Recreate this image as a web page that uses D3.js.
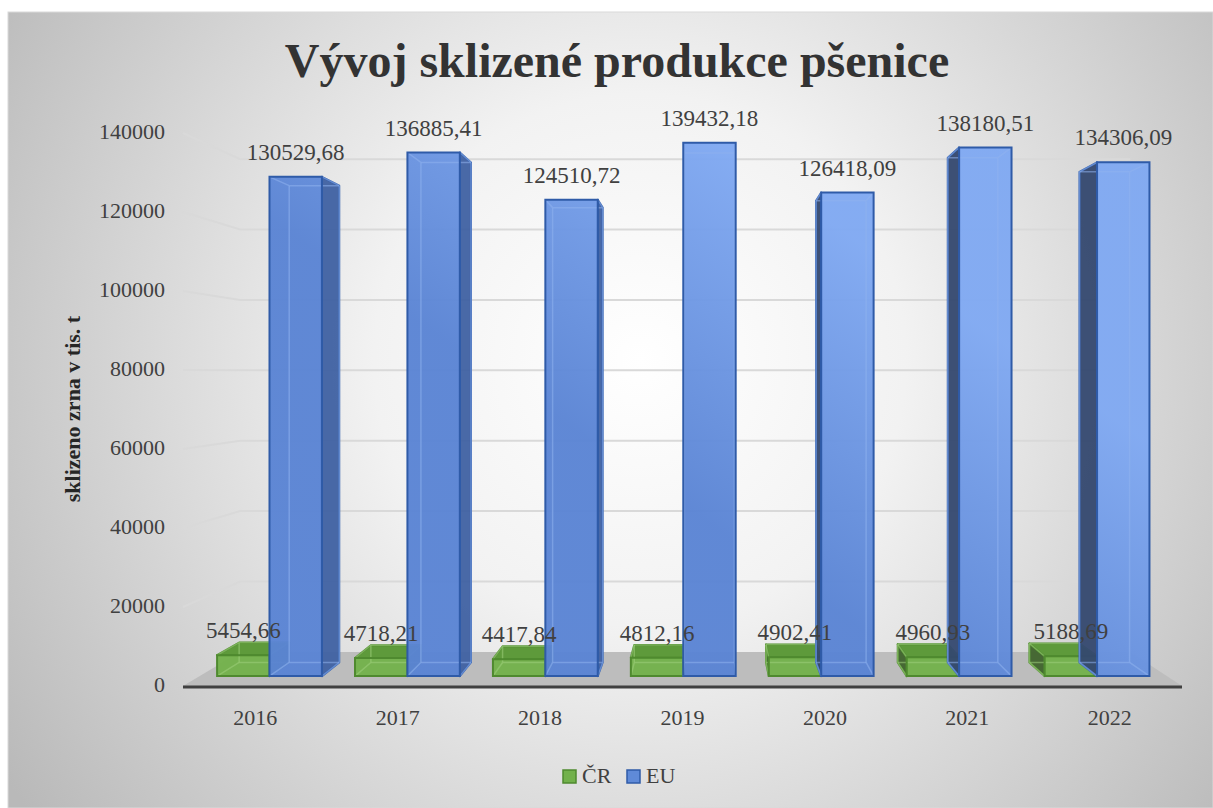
<!DOCTYPE html>
<html>
<head>
<meta charset="utf-8">
<script src="https://cdn.jsdelivr.net/npm/d3@7"></script>
<style>
  html, body { margin: 0; padding: 0; background: #fff; }
</style>
</head>
<body>
<div id="chart"></div>
<script>
// data
const years = ['2016', '2017', '2018', '2019', '2020', '2021', '2022'];
const crValues = [5454.66, 4718.21, 4417.84, 4812.16, 4902.41, 4960.93, 5188.69];
const euValues = [130529.68, 136885.41, 124510.72, 139432.18, 126418.09, 138180.51, 134306.09];
const yTicks = [0, 20000, 40000, 60000, 80000, 100000, 120000, 140000];
const seriesNames = ['ČR', 'EU'];

const width = 1213, height = 808;
const serif = '"Liberation Serif", "Times New Roman", serif';

const svg = d3.select('#chart')
    .append('svg')
    .attr('width', width)
    .attr('height', height)
    .attr('font-family', serif);

const defs = svg.append('defs');
const bg = defs.append('radialGradient')
    .attr('id', 'bg')
    .attr('gradientUnits', 'userSpaceOnUse')
    .attr('cx', 640).attr('cy', 360).attr('r', 760);
bg.append('stop').attr('offset', 0).attr('stop-color', '#ffffff');
bg.append('stop').attr('offset', 0.35).attr('stop-color', '#f2f2f2');
bg.append('stop').attr('offset', 1).attr('stop-color', '#b9b9b9');

// lighting on the blue columns: darker lower left, lighter upper right
const blueGrad = defs.append('linearGradient')
    .attr('id', 'blueFront')
    .attr('gradientUnits', 'userSpaceOnUse')
    .attr('x1', 560).attr('y1', 420).attr('x2', 740).attr('y2', 160);
blueGrad.append('stop').attr('offset', 0).attr('stop-color', '#5a84d4');
blueGrad.append('stop').attr('offset', 1).attr('stop-color', '#80a9f2');

svg.append('rect')
    .attr('x', 8).attr('y', 12)
    .attr('width', width - 8).attr('height', height - 12)
    .attr('fill', 'url(#bg)')
    .attr('stroke', '#d9d9d9');

// front plane scales, then a small perspective towards the vanishing point
const x = d3.scaleBand().domain(years).range([184, 1181]);
const y = d3.scaleLinear().domain([0, 140000]).range([686, 133]);

const vp = {x: 707, y: 373};
const depth = 0.109;
function proj(xw, yw, z) {
    const s = 1 - depth * z;
    return [vp.x + (xw - vp.x) * s, vp.y + (yw - vp.y) * s];
}

const floorLeft = 183, floorRight = 1182;

// floor
svg.append('path')
    .attr('d', d3.line()([
        proj(floorLeft, y(0), 0), proj(floorRight, y(0), 0),
        proj(floorRight, y(0), 1), proj(floorLeft, y(0), 1)
    ]) + 'Z')
    .attr('fill', '#bdbdbd');

// gridlines on side wall and back wall
const grid = svg.append('g').attr('class', 'grid');
yTicks.filter(t => t > 0).forEach(t => {
    grid.append('path')
        .attr('d', d3.line()([
            proj(floorLeft, y(t), 0),
            proj(floorLeft, y(t), 1),
            proj(floorRight, y(t), 1)
        ]))
        .attr('fill', 'none')
        .attr('stroke', '#d9d9d9')
        .attr('stroke-width', 2);
});

// axis line
svg.append('line')
    .attr('x1', floorLeft).attr('x2', floorRight)
    .attr('y1', y(0) + 1).attr('y2', y(0) + 1)
    .attr('stroke', '#404040')
    .attr('stroke-width', 3);

// y tick labels
svg.append('g')
    .selectAll('text')
    .data(yTicks)
    .join('text')
    .attr('x', 165)
    .attr('y', d => y(d) - 2)
    .attr('dy', '0.35em')
    .attr('text-anchor', 'end')
    .attr('font-family', serif)
    .attr('font-size', 22)
    .attr('fill', '#404040')
    .text(d => d);

// x labels
svg.append('g')
    .selectAll('text')
    .data(years)
    .join('text')
    .attr('x', d => x(d) + x.bandwidth() / 2)
    .attr('y', 725)
    .attr('text-anchor', 'middle')
    .attr('font-family', serif)
    .attr('font-size', 22)
    .attr('fill', '#404040')
    .text(d => d);

const styles = [
    {front: '#72b14b', top: '#5e9a3b', left: '#3f632c', right: '#4d7f33', stroke: '#4f8a2f', hidden: '#9fd07c'},
    {front: 'url(#blueFront)', top: '#5f8ad8', left: '#34486f', right: '#3f61a2', stroke: '#2f5ba8', hidden: '#8fb2ef'}
];

const barW = x.bandwidth() * 0.38;
const z0 = 0.29, z1 = 0.69;
const fmt = v => d3.format('.2f')(v).replace('.', ',');

const bars = [];
years.forEach((yr, i) => {
    [crValues[i], euValues[i]].forEach((v, s) => {
        const x0 = x(yr) + x.bandwidth() / 2 - barW + s * barW;
        bars.push({year: yr, series: s, value: v, x0: x0, x1: x0 + barW});
    });
});

const barG = svg.append('g').attr('class', 'bars');
const poly = pts => d3.line()(pts) + 'Z';

bars.forEach(b => {
    const st = styles[b.series];
    const yb = y(0), yt = y(b.value);
    const fTL = proj(b.x0, yt, z0), fTR = proj(b.x1, yt, z0),
          fBR = proj(b.x1, yb, z0), fBL = proj(b.x0, yb, z0);
    const bTL = proj(b.x0, yt, z1), bTR = proj(b.x1, yt, z1),
          bBR = proj(b.x1, yb, z1), bBL = proj(b.x0, yb, z1);
    const g = barG.append('g');

    if (bTR[0] > fTR[0]) {
        g.append('path').attr('d', poly([fTR, bTR, bBR, fBR]))
            .attr('fill', st.right).attr('fill-opacity', 0.95)
            .attr('stroke', st.stroke).attr('stroke-width', 2).attr('stroke-linejoin', 'round');
    }
    if (bTL[0] < fTL[0]) {
        g.append('path').attr('d', poly([fTL, bTL, bBL, fBL]))
            .attr('fill', st.left).attr('fill-opacity', 0.95)
            .attr('stroke', st.stroke).attr('stroke-width', 2).attr('stroke-linejoin', 'round');
    }
    if (bTL[1] < fTL[1]) {
        g.append('path').attr('d', poly([fTL, fTR, bTR, bTL]))
            .attr('fill', st.top)
            .attr('stroke', st.stroke).attr('stroke-width', 2).attr('stroke-linejoin', 'round');
    }
    g.append('path').attr('d', poly([fTL, fTR, fBR, fBL]))
        .attr('fill', st.front).attr('fill-opacity', 0.96);

    // edges seen through the transparent column
    [[bTL, bTR], [bTR, bBR], [bBR, bBL], [bBL, bTL],
     [fTL, bTL], [fTR, bTR], [fBL, bBL], [fBR, bBR]].forEach(e => {
        g.append('line')
            .attr('x1', e[0][0]).attr('y1', e[0][1])
            .attr('x2', e[1][0]).attr('y2', e[1][1])
            .attr('stroke', st.hidden).attr('stroke-opacity', 0.55)
            .attr('stroke-width', 1.5);
    });

    g.append('path').attr('d', poly([fTL, fTR, fBR, fBL]))
        .attr('fill', 'none')
        .attr('stroke', st.stroke).attr('stroke-width', 2);

    b.labelX = (fTL[0] + fTR[0]) / 2;
    b.labelY = fTL[1] - 17;
});

// data labels
svg.append('g')
    .selectAll('text')
    .data(bars)
    .join('text')
    .attr('x', d => d.labelX)
    .attr('y', d => d.labelY)
    .attr('text-anchor', 'middle')
    .attr('font-family', serif)
    .attr('font-size', 23)
    .attr('fill', '#404040')
    .text(d => fmt(d.value));

// title
svg.append('text')
    .attr('x', 617)
    .attr('y', 77)
    .attr('text-anchor', 'middle')
    .attr('font-family', serif)
    .attr('font-size', 48)
    .attr('font-weight', 'bold')
    .attr('fill', '#333333')
    .text('Vývoj sklizené produkce pšenice');

// y axis title
svg.append('text')
    .attr('transform', 'translate(80, 409) rotate(-90)')
    .attr('text-anchor', 'middle')
    .attr('font-family', serif)
    .attr('font-size', 22)
    .attr('font-weight', 'bold')
    .attr('fill', '#262626')
    .text('sklizeno zrna v tis. t');

// legend
const legend = svg.append('g').attr('transform', 'translate(563, 770)');
const legendX = [0, 64];
seriesNames.forEach((name, i) => {
    legend.append('rect')
        .attr('x', legendX[i]).attr('y', 0)
        .attr('width', 13).attr('height', 13)
        .attr('fill', i === 0 ? '#72b14b' : '#5f8ad8')
        .attr('stroke', styles[i].stroke)
        .attr('stroke-width', 1.5);
    legend.append('text')
        .attr('x', legendX[i] + 19)
        .attr('y', 13)
        .attr('font-family', serif)
        .attr('font-size', 22)
        .attr('fill', '#404040')
        .text(name);
});
</script>
</body>
</html>
